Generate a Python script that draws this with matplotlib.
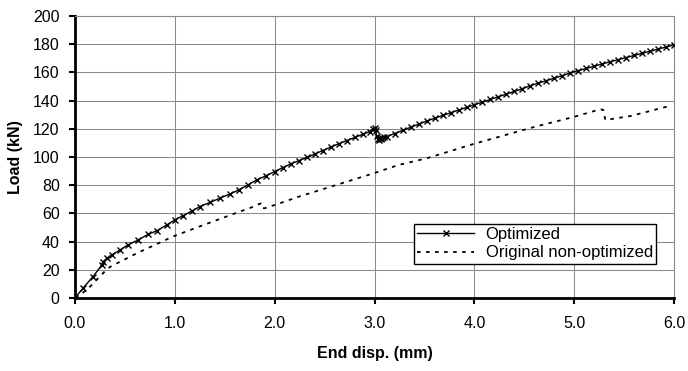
import matplotlib.pyplot as plt

plt.rcParams['font.family'] = ['Liberation Sans', 'DejaVu Sans']

# Optimized (markers at every point)
opt_x = [0.00, 0.08, 0.18, 0.27, 0.28, 0.32, 0.37, 0.45, 0.53, 0.63, 0.73, 0.82, 0.92,
         1.00, 1.08, 1.17, 1.25, 1.35, 1.45, 1.55, 1.64, 1.73, 1.82, 1.91, 2.00,
         2.08, 2.16, 2.24, 2.32, 2.40, 2.48, 2.56, 2.64, 2.72, 2.80, 2.88, 2.95,
         2.98, 3.00, 3.01, 3.02, 3.03, 3.04, 3.05, 3.06, 3.07, 3.09, 3.12,
         3.20, 3.28, 3.36, 3.44, 3.52, 3.60, 3.68, 3.76, 3.84, 3.92, 4.00,
         4.08, 4.16, 4.24, 4.32, 4.40, 4.48, 4.56, 4.64, 4.72, 4.80, 4.88, 4.96,
         5.04, 5.12, 5.20, 5.28, 5.36, 5.44, 5.52, 5.60, 5.68, 5.76, 5.84, 5.92, 6.00]
opt_y = [0.0, 6.9, 15.1, 23.4, 25.7, 28.1, 30.5, 34.0, 37.6, 41.0, 45.0, 47.7, 51.8,
         55.3, 58.3, 61.6, 64.8, 67.7, 70.7, 73.7, 76.6, 80.1, 83.7, 86.6, 89.6,
         92.4, 95.0, 97.3, 99.6, 102.0, 104.5, 107.0, 109.3, 111.6, 113.8, 116.0, 118.0,
         119.5, 120.5, 119.0, 115.0, 113.0, 112.0, 113.5, 112.5, 113.5, 114.0, 114.4,
         116.6, 118.8, 121.0, 123.2, 125.4, 127.4, 129.4, 131.3, 133.2, 135.1, 137.0,
         138.9, 140.8, 142.7, 144.6, 146.5, 148.4, 150.6, 152.4, 154.1, 155.9, 157.7, 159.6,
         161.2, 162.8, 164.4, 166.0, 167.5, 169.0, 170.5, 172.0, 173.5, 175.0, 176.5, 178.0, 179.5]

# Original non-optimized
orig_x = [0.00, 0.12, 0.28, 0.35, 0.62, 0.98, 1.09, 1.45, 1.79, 1.84, 1.86, 1.87, 1.90,
          2.05, 2.24, 2.99, 3.24, 3.52, 3.99, 4.61, 4.98, 5.26, 5.29, 5.31, 5.56, 5.93]
orig_y = [0.0, 5.7, 17.5, 22.0, 31.7, 43.5, 46.5, 56.0, 64.8, 66.5, 67.0, 63.8, 63.6,
          67.1, 71.8, 88.4, 94.3, 99.0, 109.2, 121.5, 128.1, 133.8, 133.4, 126.2, 129.0, 135.7]

xticks = [0, 1, 2, 3, 4, 5, 6]
yticks = list(range(0, 201, 20))

fig = plt.figure(figsize=(6.88, 3.71), dpi=100)
ax = fig.add_axes([0.109, 0.197, 0.871, 0.760])

ax.plot(opt_x, opt_y, color='black', lw=1.0, marker='x', ms=5, mew=1.0,
        label='Optimized', zorder=3)
ax.plot(orig_x, orig_y, color='black', lw=1.3, linestyle=(0, (2, 3)),
        label='Original non-optimized', zorder=3)

ax.set_xlim(0, 6)
ax.set_ylim(0, 200)
ax.set_xticks(xticks)
ax.set_xticklabels(['%.1f' % v for v in xticks])
ax.set_yticks(yticks)
ax.tick_params(direction='out', length=4, width=1.5, labelsize=11.5, colors='black')
ax.tick_params(axis='x', pad=9)
ax.tick_params(axis='y', pad=7)
ax.grid(True, color='#8a8a8a', lw=0.75)
ax.set_axisbelow(True)

for s in ['top', 'right']:
    ax.spines[s].set_color('#8a8a8a')
    ax.spines[s].set_linewidth(0.8)
for s in ['left', 'bottom']:
    ax.spines[s].set_color('black')
    ax.spines[s].set_linewidth(2.0)

ax.set_xlabel('End disp. (mm)', fontsize=11.5, fontweight='bold', labelpad=11)
ax.set_ylabel('Load (kN)', fontsize=11.5, fontweight='bold', labelpad=7)

leg = ax.legend(loc='lower right', bbox_to_anchor=(0.970, 0.121), borderaxespad=0,
                fontsize=12, frameon=True, fancybox=False, edgecolor='black',
                framealpha=1, handlelength=3.4, handletextpad=0.7,
                borderpad=0.2, labelspacing=0.2)
leg.get_frame().set_linewidth(1.0)

fig.savefig('out.png', dpi=100)
